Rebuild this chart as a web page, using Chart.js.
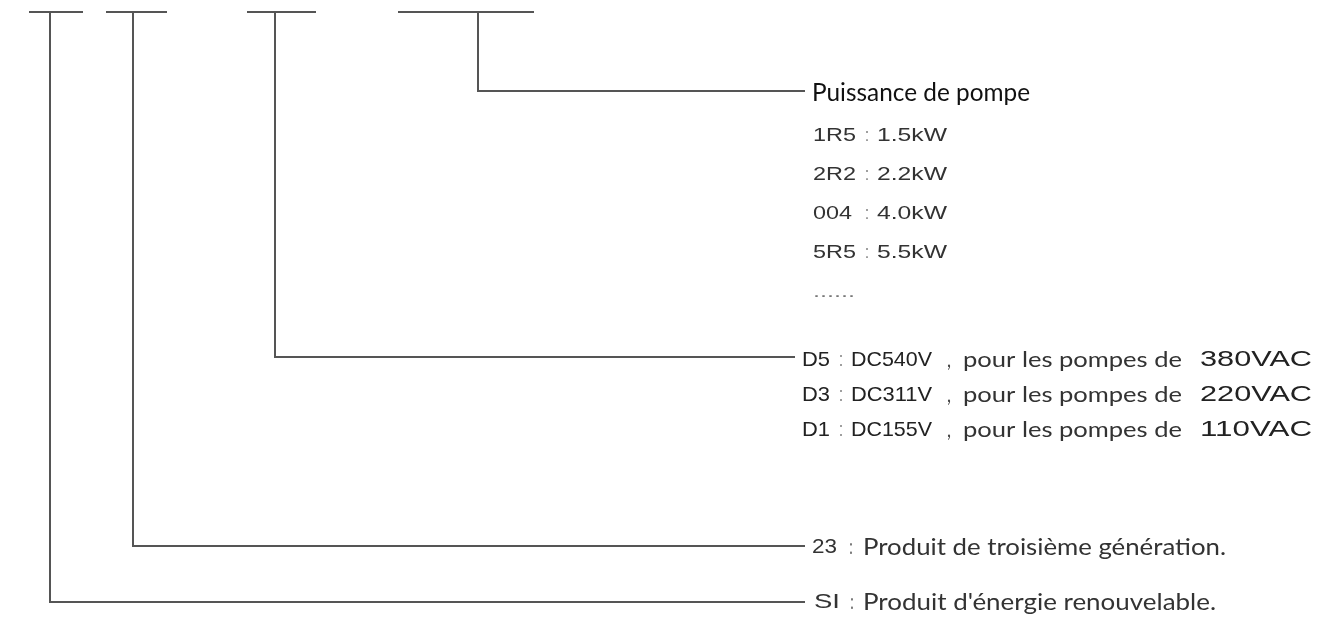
<!DOCTYPE html>
<html>
<head>
<meta charset="utf-8">
<script src="https://cdn.jsdelivr.net/npm/chart.js@4.4.1/dist/chart.umd.min.js"></script>
<style>
  html,body{margin:0;padding:0;background:#fff;}
  #wrap{width:1325px;height:617px;position:relative;}
</style>
</head>
<body>
<div id="wrap"><canvas id="c"></canvas></div>
<script>
// ---- Data (schematic layout units = pixels of the 1325x617 drawing) ----
const codeBarY = 12;
const codeBars = [[29, 83], [106, 167], [247, 316], [398, 534]];   // underline of each code field
const branchX   = [50, 133, 275, 478];     // vertical leader from each field
const branchY   = [602, 546, 357, 91];     // level where the leader turns right
const branchEnd = [805, 805, 795, 805];    // end of the horizontal leader

const headerTitle = 'Puissance de pompe';
const powerCodes  = ['1R5', '2R2', '004', '5R5'];
const powerValues = ['1.5kW', '2.2kW', '4.0kW', '5.5kW'];
const powerRowY   = [136, 175, 214, 253];
const moreMark    = '......';
const moreY       = 293;

const voltageCodes = ['D5', 'D3', 'D1'];
const dcVoltages   = ['DC540V', 'DC311V', 'DC155V'];
const acVoltages   = ['380VAC', '220VAC', '110VAC'];
const voltagePhrase = 'pour les pompes de';
const voltageRowY  = [360, 395, 430];

const genCode = '23', genText = 'Produit de troisième génération.', genY = 546;
const siCode  = 'SI', siText  = "Produit d'énergie renouvelable.", siY = 602;

// ---- datasets built from the arrays ----
const lineColor = '#555';
const datasets = [];
codeBars.forEach(([a, b]) => datasets.push({
  data: [{x: a, y: codeBarY}, {x: b, y: codeBarY}],
  showLine: true, borderColor: lineColor, borderWidth: 2, pointRadius: 0, fill: false
}));
branchX.forEach((bx, i) => datasets.push({
  data: [{x: bx, y: codeBarY}, {x: bx, y: branchY[i]}, {x: branchEnd[i], y: branchY[i]}],
  showLine: true, borderColor: lineColor, borderWidth: 2, pointRadius: 0, fill: false,
  borderJoinStyle: 'miter'
}));

const ARIAL = '"Liberation Sans", Arial, sans-serif';
const HUMAN = 'Lato, "Open Sans", sans-serif';

function fit(ctx, text, x0, x1, y, size, family, color, weight) {
  ctx.font = (weight || 'normal') + ' ' + size + 'px ' + family;
  ctx.fillStyle = color;
  const w = ctx.measureText(text).width;
  const sx = (x1 - x0) / w;
  ctx.save();
  ctx.translate(x0, y);
  ctx.scale(sx, 1);
  ctx.fillText(text, 0, 0);
  ctx.restore();
}

const textPlugin = {
  id: 'labels',
  afterDatasetsDraw(chart) {
    const ctx = chart.ctx, X = chart.scales.x, Y = chart.scales.y;
    const px = v => X.getPixelForValue(v), py = v => Y.getPixelForValue(v);
    ctx.save();
    ctx.textBaseline = 'middle';
    ctx.textAlign = 'left';
    // header
    fit(ctx, headerTitle, px(812), px(1030), py(branchY[3] + 2), 25, HUMAN, '#111');
    // power rows
    powerCodes.forEach((c, i) => {
      const y = py(powerRowY[i]);
      const w = c === '004' ? 852 : 856;
      fit(ctx, c, px(813), px(w), y, 19, ARIAL, '#333');
      fit(ctx, ':', px(865), px(869), y, 19, ARIAL, '#777');
      fit(ctx, powerValues[i], px(877), px(947), y, 19, ARIAL, '#333');
    });
    fit(ctx, moreMark, px(813), px(855), py(moreY), 16, ARIAL, '#777');
    // voltage rows
    voltageCodes.forEach((c, i) => {
      const y = py(voltageRowY[i]);
      fit(ctx, c, px(802), px(830), y, 21, ARIAL, '#222');
      fit(ctx, ':', px(839), px(843), y, 21, ARIAL, '#777');
      fit(ctx, dcVoltages[i], px(851), px(932), y, 21, ARIAL, '#222');
      fit(ctx, ',', px(947), px(951), y, 21, HUMAN, '#444');
      fit(ctx, voltagePhrase, px(963), px(1182), y, 22, HUMAN, '#333');
      fit(ctx, acVoltages[i], px(1200), px(1312), y, 22, ARIAL, '#222');
    });
    // generation / family rows
    fit(ctx, genCode, px(812), px(837), py(genY + 1), 21, ARIAL, '#333');
    fit(ctx, ':', px(849), px(853), py(genY + 1), 22, HUMAN, '#777');
    fit(ctx, genText, px(863), px(1226), py(genY + 1), 24, HUMAN, '#333');
    fit(ctx, siCode, px(814), px(840), py(siY), 21, ARIAL, '#333');
    fit(ctx, ':', px(850), px(854), py(siY), 22, HUMAN, '#777');
    fit(ctx, siText, px(863), px(1216), py(siY), 24, HUMAN, '#333');
    ctx.restore();
  }
};

new Chart(document.getElementById('c'), {
  type: 'scatter',
  data: { datasets },
  options: {
    responsive: true, maintainAspectRatio: false, animation: false,
    layout: { padding: 0 },
    plugins: { legend: { display: false }, tooltip: { enabled: false } },
    scales: {
      x: { type: 'linear', min: 0, max: 1325, display: false },
      y: { type: 'linear', min: 0, max: 617, reverse: true, display: false }
    },
    elements: { line: { tension: 0, capBezierPoints: false } }
  },
  plugins: [textPlugin]
});
</script>
</body>
</html>
